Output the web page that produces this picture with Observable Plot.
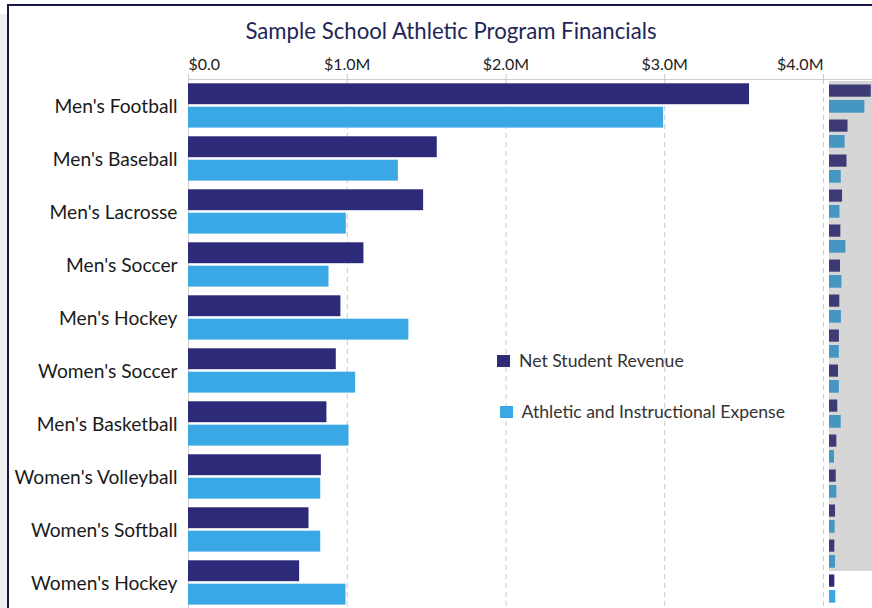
<!DOCTYPE html>
<html>
<head>
<meta charset="utf-8">
<script src="https://cdn.jsdelivr.net/npm/d3@7"></script>
<script src="https://cdn.jsdelivr.net/npm/@observablehq/plot@0.6"></script>
<style>
  html, body { margin: 0; padding: 0; background: #ffffff; overflow: hidden; }
  #page { position: relative; width: 872px; height: 608px; overflow: hidden; font-family: Lato, "Noto Sans", sans-serif; }
  #strip { position: absolute; left: 0; top: 14px; width: 7px; height: 600px; background: #efefef; }
  #card { position: absolute; left: 7px; top: 4px; width: 870px; height: 610px; border-left: 2px solid #15194a; border-top: 2px solid #15194a; background: #fff; }
  #title { position: absolute; left: 451px; top: 20px; transform: translateX(-50%); white-space: nowrap; font-size: 22.2px; line-height: 22px; color: #1e2657; }
  #main { position: absolute; left: 0; top: 0; }
  #mini { position: absolute; left: 829px; top: 0; }
  .leg { position: absolute; font-size: 17.6px; line-height: 16px; color: #333; white-space: nowrap; }
  .sw { position: absolute; width: 13px; height: 12px; }
</style>
</head>
<body>
<div id="page">
  <div id="strip"></div>
  <div id="card"></div>
  <div id="main"></div>
  <div id="mini"></div>
  <div id="title"></div>
  <div id="legend"></div>
</div>
<script>
const title = "Sample School Athletic Program Financials";
const seriesNames = ["Net Student Revenue", "Athletic and Instructional Expense"];
const seriesColors = ["#2e2a7a", "#3aa8e4"];
const categories = [
  "Men's Football", "Men's Baseball", "Men's Lacrosse", "Men's Soccer", "Men's Hockey",
  "Women's Soccer", "Men's Basketball", "Women's Volleyball", "Women's Softball", "Women's Hockey",
  "Women's Lacrosse", "Women's Basketball", "Men's Tennis", "Women's Tennis", "Women's Track"
];
// values in $M
const revenue = [3.534, 1.567, 1.481, 1.105, 0.960, 0.931, 0.872, 0.837, 0.759, 0.700, 0.62, 0.57, 0.51, 0.45, 0.45];
const expense = [2.993, 1.322, 0.994, 0.885, 1.388, 1.053, 1.011, 0.833, 0.833, 0.992, 0.42, 0.62, 0.48, 0.51, 0.53];
const xTicks = [0, 1, 2, 3, 4];
const tickLabels = ["$0.0", "$1.0M", "$2.0M", "$3.0M", "$4.0M"];
const visibleCount = 10;    // rows visible in the scrolled main view
const navigatorCount = 14;  // rows covered by the grey navigator mask

const rows = categories.map((c, i) => ({category: c, revenue: revenue[i], expense: expense[i]}));
const fmt = d => tickLabels[xTicks.indexOf(d)];

document.getElementById("title").textContent = title;

const step = 53.08, plotTop = 79;
const axisStyle = {anchor: "top", tickSize: 6, tickPadding: 3, tickFormat: fmt, fontSize: 16, stroke: "#c9c9c9", fill: "#222"};
const main = Plot.plot({
  width: 872,
  height: plotTop + step * categories.length,
  marginTop: plotTop,
  marginLeft: 188,
  marginRight: 49,
  marginBottom: 0,
  style: {fontFamily: "Lato, 'Noto Sans', sans-serif", background: "transparent", overflow: "visible"},
  x: {domain: [0, 4], axis: null},
  y: {domain: categories, padding: 0, axis: null, label: null},
  marks: [
    Plot.gridX([1, 2, 3, 4], {stroke: "#c9c9c9", strokeOpacity: 1, strokeDasharray: "5,4"}),
    Plot.frame({stroke: "#cfcfcf", insetRight: -80}),
    Plot.barX(rows, {y: "category", x: "revenue", fill: seriesColors[0], insetTop: 3.3, insetBottom: 28.8}),
    Plot.barX(rows, {y: "category", x: "expense", fill: seriesColors[1], insetTop: 26.7, insetBottom: 5.4}),
    Plot.axisX({...axisStyle, ticks: xTicks.slice(0, 1), textAnchor: "start"}),
    Plot.axisX({...axisStyle, ticks: xTicks.slice(1, 4)}),
    Plot.axisX({...axisStyle, ticks: xTicks.slice(4), textAnchor: "end"}),
    Plot.axisY({anchor: "left", ticks: categories.slice(0, visibleCount), label: null, tickSize: 0, tickPadding: 11, fontSize: 19.2, fill: "#1a1a1a"})
  ]
});
document.getElementById("main").append(main);

const mstep = 35.3;
const mini = Plot.plot({
  width: 43,
  height: plotTop + mstep * categories.length,
  marginTop: plotTop,
  marginLeft: 0,
  marginRight: 0,
  marginBottom: 0,
  style: {background: "transparent", overflow: "visible"},
  x: {domain: [0, 3.64], axis: null},
  y: {domain: categories, padding: 0, axis: null, label: null},
  marks: [
    Plot.barX(rows, {y: "category", x: "revenue", fill: seriesColors[0], insetTop: 3.5, insetBottom: 19.3}),
    Plot.barX(rows, {y: "category", x: "expense", fill: seriesColors[1], insetTop: 19, insetBottom: 3.3}),
    Plot.barX(categories.slice(0, navigatorCount), {y: d => d, x1: 0, x2: 3.64, fill: "#676767", fillOpacity: 0.27}),
    Plot.ruleX([0], {y1: categories[0], y2: categories[navigatorCount - 1], stroke: "#b5b5b5", insetTop: -17.65, insetBottom: -17.65})
  ]
});
document.getElementById("mini").append(mini);

const legend = document.getElementById("legend");
const legPos = [{sx: 497, sy: 355, tx: 519, ty: 352.5}, {sx: 500, sy: 406, tx: 521.5, ty: 404}];
seriesNames.forEach((name, i) => {
  const sw = document.createElement("div");
  sw.className = "sw";
  sw.style.left = legPos[i].sx + "px";
  sw.style.top = legPos[i].sy + "px";
  sw.style.background = seriesColors[i];
  legend.append(sw);
  const t = document.createElement("div");
  t.className = "leg";
  t.style.left = legPos[i].tx + "px";
  t.style.top = legPos[i].ty + "px";
  t.textContent = name;
  legend.append(t);
});
</script>
</body>
</html>
